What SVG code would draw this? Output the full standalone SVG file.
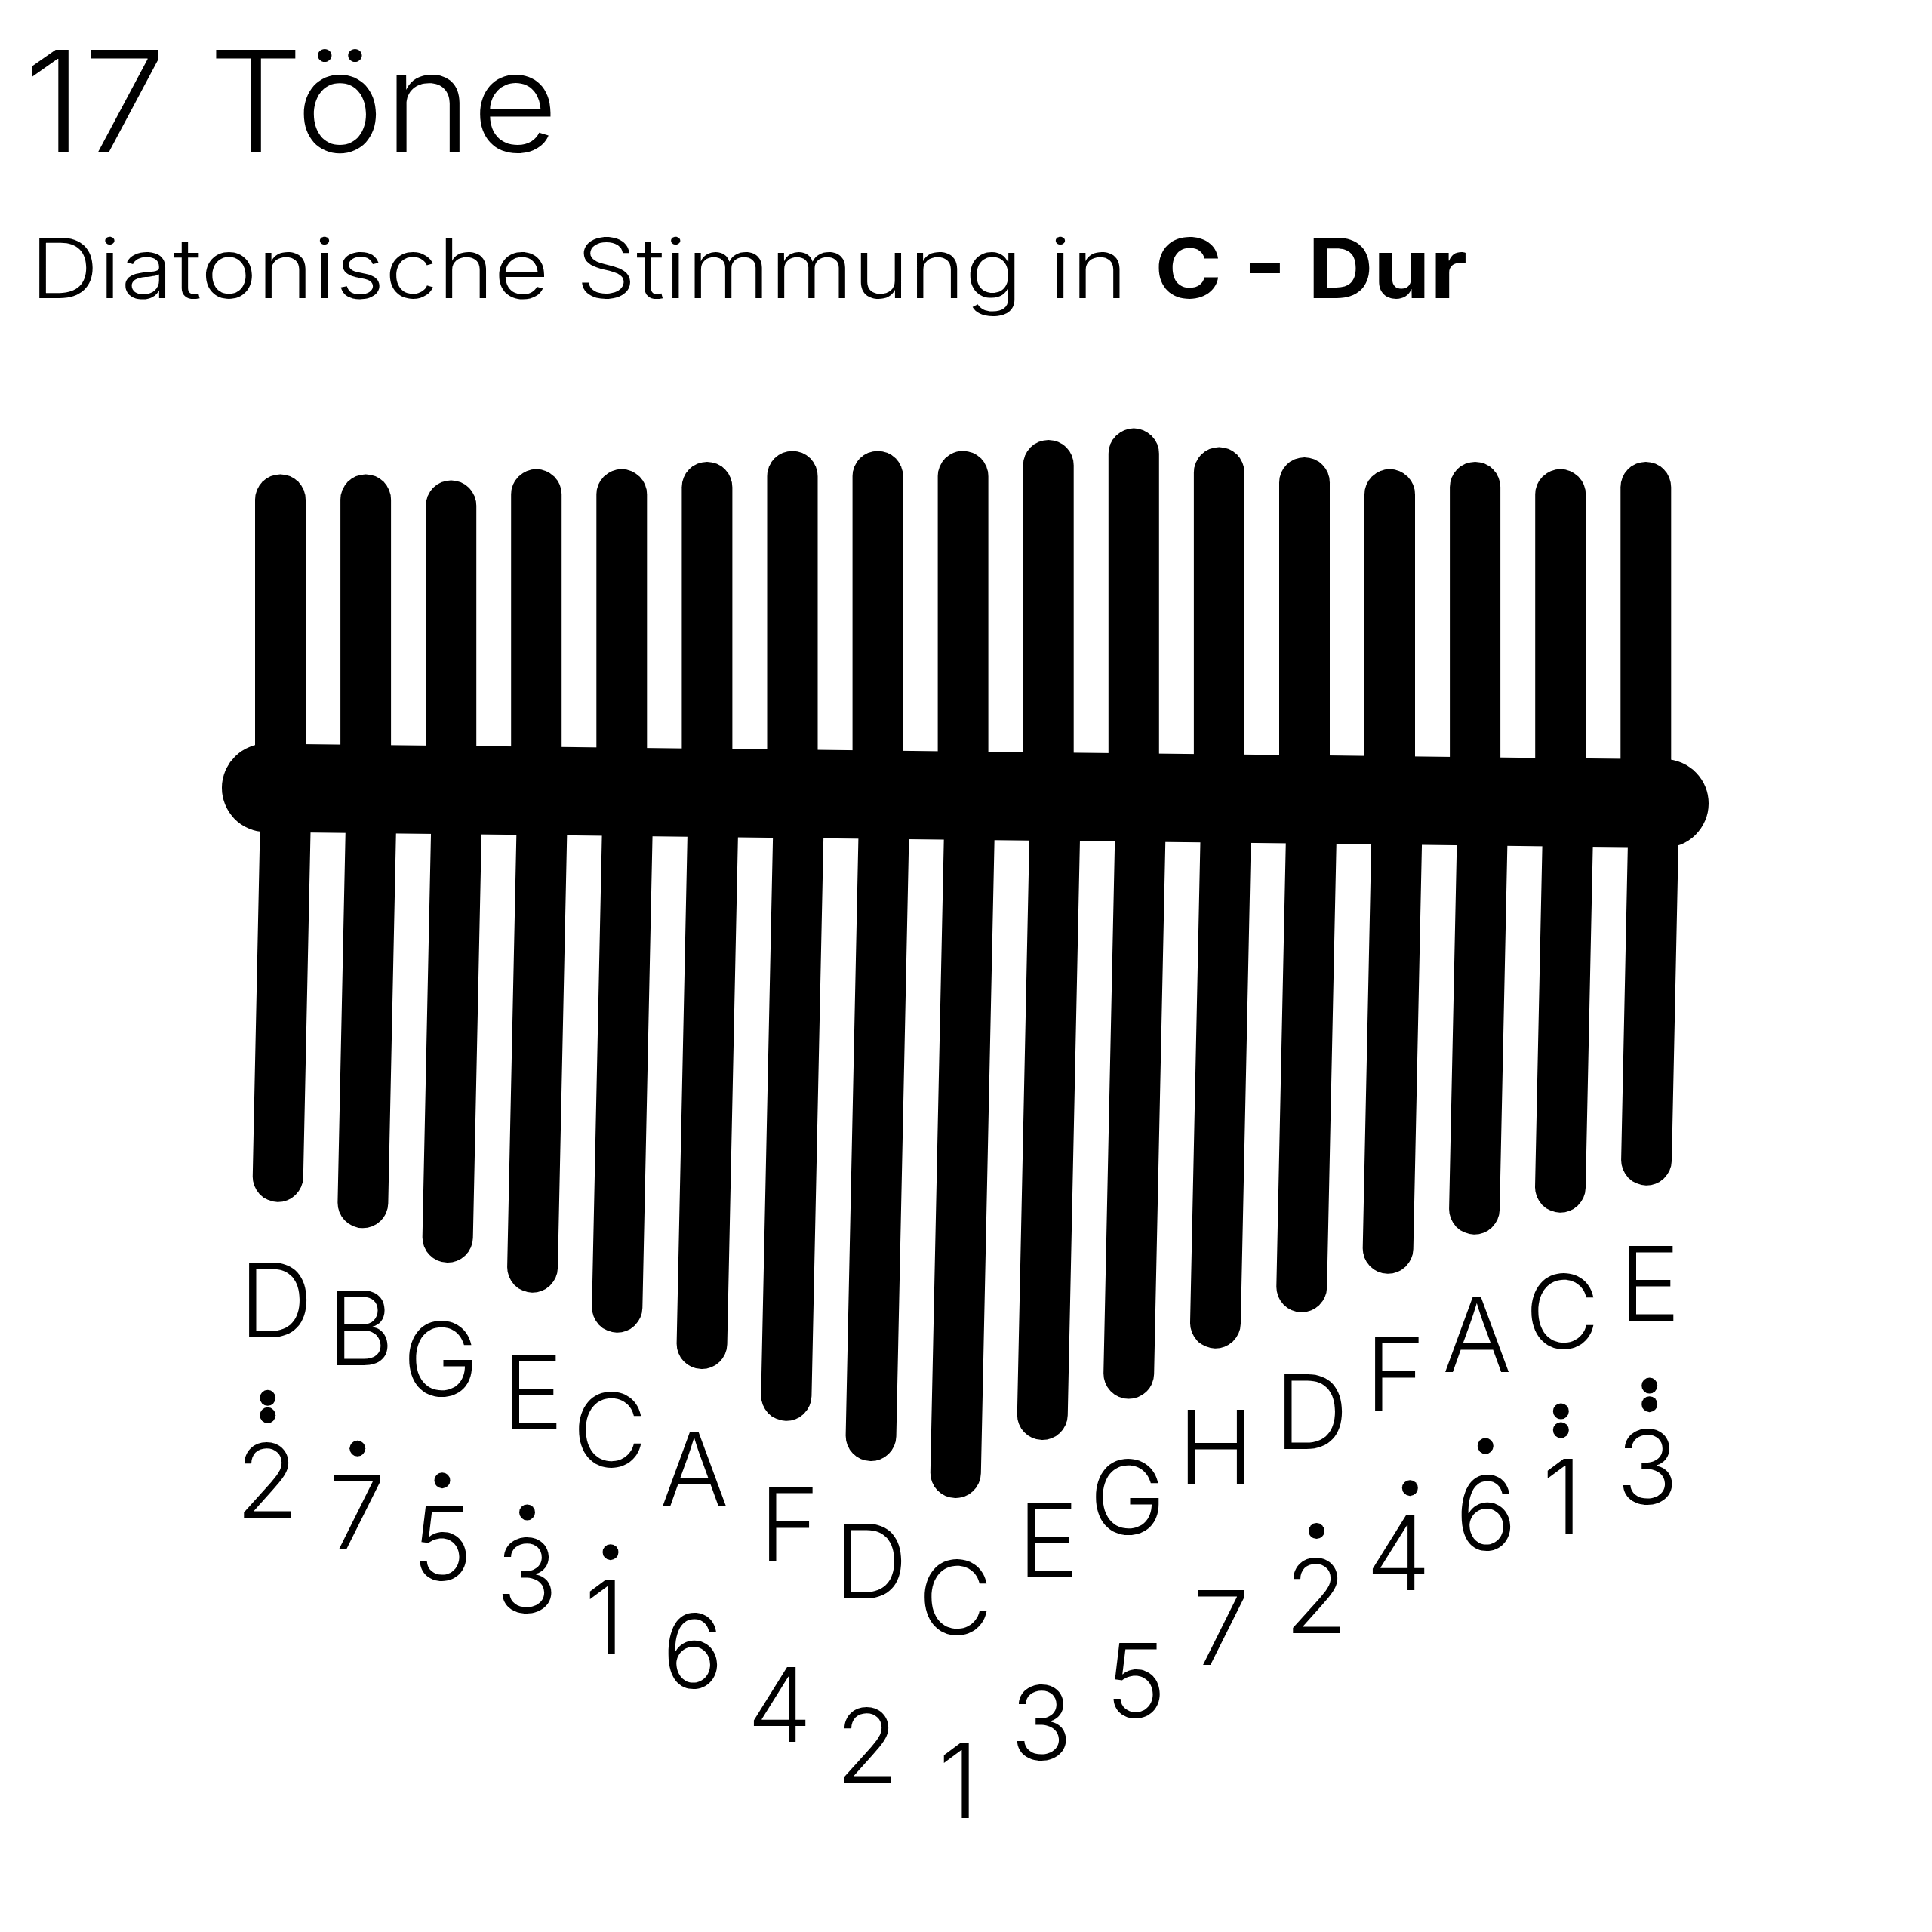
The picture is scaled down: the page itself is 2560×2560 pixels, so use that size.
<svg xmlns="http://www.w3.org/2000/svg" width="2560" height="2560" viewBox="0 0 2560 2560">
<style>
.t{stroke:#000;stroke-width:67;stroke-linecap:round;fill:none}
.br{stroke:#000;stroke-width:117;stroke-linecap:round;fill:none}
.l{font-family:Inter,"Noto Sans","DejaVu Sans",sans-serif;font-size:136px;font-weight:300;text-anchor:middle;fill:#000}
.h{font-family:Inter,"Noto Sans","DejaVu Sans",sans-serif;fill:#000}
.d{fill:#000}
</style>
<rect width="2560" height="2560" fill="#fff"/>
<g id="title">
<text class="h" x="32" y="201" font-size="185" font-weight="300" textLength="708" lengthAdjust="spacingAndGlyphs">17 Töne</text>
<text class="h" x="40" y="395" font-size="110" font-weight="300" textLength="1454" lengthAdjust="spacingAndGlyphs">Diatonische Stimmung in</text>
<text class="h" x="1530" y="395" font-size="110" font-weight="bold" textLength="414" lengthAdjust="spacingAndGlyphs">C - Dur</text>
</g>
<g id="kalimba">
<g id="upper-tines">
<line class="t" x1="371.5" y1="662" x2="371.5" y2="1060"/>
<line class="t" x1="484.6" y1="662" x2="484.6" y2="1060"/>
<line class="t" x1="597.7" y1="670" x2="597.7" y2="1060"/>
<line class="t" x1="710.7" y1="655.1" x2="710.7" y2="1060"/>
<line class="t" x1="823.8" y1="655.1" x2="823.8" y2="1060"/>
<line class="t" x1="936.9" y1="645.5" x2="936.9" y2="1060"/>
<line class="t" x1="1050" y1="631" x2="1050" y2="1060"/>
<line class="t" x1="1163.1" y1="631" x2="1163.1" y2="1060"/>
<line class="t" x1="1276.1" y1="631" x2="1276.1" y2="1060"/>
<line class="t" x1="1389.2" y1="616.4" x2="1389.2" y2="1060"/>
<line class="t" x1="1502.3" y1="601.1" x2="1502.3" y2="1060"/>
<line class="t" x1="1615.4" y1="626" x2="1615.4" y2="1060"/>
<line class="t" x1="1728.5" y1="639.4" x2="1728.5" y2="1060"/>
<line class="t" x1="1841.5" y1="655.1" x2="1841.5" y2="1060"/>
<line class="t" x1="1954.6" y1="645.5" x2="1954.6" y2="1060"/>
<line class="t" x1="2067.7" y1="655.1" x2="2067.7" y2="1060"/>
<line class="t" x1="2180.8" y1="645.5" x2="2180.8" y2="1060"/>
</g>
<g id="lower-tines">
<line class="t" x1="378.9" y1="1060" x2="368.3" y2="1559.2"/>
<line class="t" x1="492.2" y1="1060" x2="480.9" y2="1593.8"/>
<line class="t" x1="605.5" y1="1060" x2="593.2" y2="1639.5"/>
<line class="t" x1="718.8" y1="1060" x2="705.6" y2="1679.2"/>
<line class="t" x1="832.1" y1="1060" x2="817.8" y2="1732.2"/>
<line class="t" x1="945.4" y1="1060" x2="930.1" y2="1780.5"/>
<line class="t" x1="1058.7" y1="1060" x2="1041.9" y2="1849.2"/>
<line class="t" x1="1172" y1="1060" x2="1154.1" y2="1902.5"/>
<line class="t" x1="1285.3" y1="1060" x2="1266.3" y2="1951.5"/>
<line class="t" x1="1398.6" y1="1060" x2="1381.3" y2="1874.5"/>
<line class="t" x1="1511.9" y1="1060" x2="1495.7" y2="1820.1"/>
<line class="t" x1="1625.2" y1="1060" x2="1610.5" y2="1753.2"/>
<line class="t" x1="1738.5" y1="1060" x2="1724.8" y2="1705.3"/>
<line class="t" x1="1851.8" y1="1060" x2="1839.2" y2="1654.3"/>
<line class="t" x1="1965.1" y1="1060" x2="1953.6" y2="1602.2"/>
<line class="t" x1="2078.4" y1="1060" x2="2067.5" y2="1573.2"/>
<line class="t" x1="2191.7" y1="1060" x2="2181.6" y2="1537.2"/>
</g>
<g id="bridge">
<line class="br" x1="352.5" y1="1044" x2="2205.5" y2="1064.6"/>
</g>
</g>
<g id="notes">
<text class="l" x="366" y="1772">D</text>
<text class="l" x="478" y="1809">B</text>
<text class="l" x="584" y="1850">G</text>
<text class="l" x="706" y="1894">E</text>
<text class="l" x="808" y="1944">C</text>
<text class="l" x="920" y="1996">A</text>
<text class="l" x="1046" y="2069">F</text>
<text class="l" x="1154" y="2118">D</text>
<text class="l" x="1266" y="2166">C</text>
<text class="l" x="1389" y="2090">E</text>
<text class="l" x="1494" y="2033">G</text>
<text class="l" x="1611" y="1967">H</text>
<text class="l" x="1738" y="1920">D</text>
<text class="l" x="1849" y="1870">F</text>
<text class="l" x="1957" y="1818">A</text>
<text class="l" x="2070" y="1787">C</text>
<text class="l" x="2186" y="1750">E</text>
</g>
<g id="numbers">
<text class="l" x="354" y="2011">2</text>
<text class="l" x="473" y="2053">7</text>
<text class="l" x="586" y="2094">5</text>
<text class="l" x="698" y="2137">3</text>
<text class="l" x="801" y="2192">1</text>
<text class="l" x="918" y="2237">6</text>
<text class="l" x="1033" y="2308">4</text>
<text class="l" x="1149" y="2362">2</text>
<text class="l" x="1270" y="2409">1</text>
<text class="l" x="1380" y="2332">3</text>
<text class="l" x="1505" y="2276">5</text>
<text class="l" x="1618" y="2206">7</text>
<text class="l" x="1744" y="2164">2</text>
<text class="l" x="1853" y="2107">4</text>
<text class="l" x="1969" y="2054">6</text>
<text class="l" x="2070" y="2032">1</text>
<text class="l" x="2183" y="1993">3</text>
</g>
<g id="octave-dots">
<circle class="d" cx="354.7" cy="1852.3" r="10.5"/>
<circle class="d" cx="354.7" cy="1875.3" r="10.5"/>
<circle class="d" cx="473.7" cy="1919.3" r="10.5"/>
<circle class="d" cx="586" cy="1961.7" r="10.5"/>
<circle class="d" cx="698.5" cy="2004" r="10.5"/>
<circle class="d" cx="809" cy="2056.7" r="10.5"/>
<circle class="d" cx="1744.5" cy="2028.6" r="10.5"/>
<circle class="d" cx="1868.3" cy="1971.7" r="10.5"/>
<circle class="d" cx="1968.3" cy="1916" r="10.5"/>
<circle class="d" cx="2068.3" cy="1870" r="10.5"/>
<circle class="d" cx="2068.3" cy="1895" r="10.5"/>
<circle class="d" cx="2185.7" cy="1836" r="10.5"/>
<circle class="d" cx="2185.7" cy="1860.7" r="10.5"/>
</g>
</svg>
